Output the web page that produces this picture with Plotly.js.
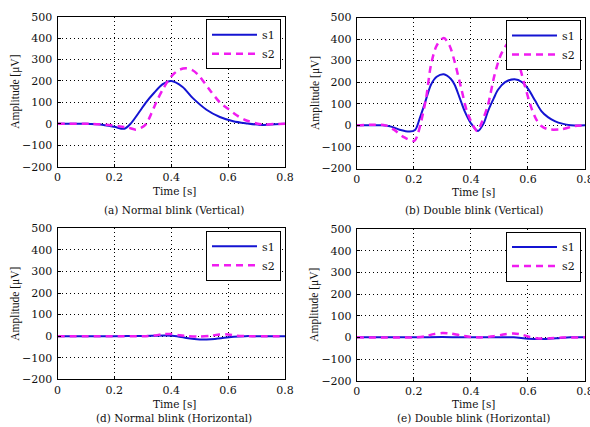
<!DOCTYPE html>
<html>
<head>
<meta charset="utf-8">
<script src="https://cdn.plot.ly/plotly-3.0.1.min.js"></script>
<style>html,body{margin:0;padding:0;background:#fff;}#chart{width:590px;height:427px;}</style>
</head>
<body>
<div id="chart"></div>
<script>
// ---- data ----
const seriesNames = ["s1", "s2"];
const xTickVals = [0, 0.2, 0.4, 0.6, 0.8];
const xTickText = ["0", "0.2", "0.4", "0.6", "0.8"];
const yTickVals = [-200, -100, 0, 100, 200, 300, 400, 500];
const captions = ["(a) Normal blink (Vertical)", "(b) Double blink (Vertical)",
                  "(d) Normal blink (Horizontal)", "(e) Double blink (Horizontal)"];

// (a) Normal blink, vertical
const aS1t = [0, 0.1, 0.15, 0.2, 0.235, 0.258, 0.29, 0.31, 0.34, 0.37, 0.4, 0.44, 0.476, 0.524, 0.571, 0.618, 0.665, 0.712, 0.75, 0.8];
const aS1v = [0, 0, -3, -14, -23, 2, 60, 98, 145, 185, 200, 172, 120, 66, 32, 12, 2, -5, -3, 0];
const aS2t = [0, 0.12, 0.18, 0.22, 0.25, 0.275, 0.295, 0.312, 0.33, 0.347, 0.368, 0.388, 0.41, 0.43, 0.453, 0.475, 0.495, 0.512, 0.54, 0.571, 0.6, 0.63, 0.66, 0.7, 0.73, 0.76, 0.8];
const aS2v = [0, 0, -5, -12, -18, -27, -18, 0, 48, 100, 155, 200, 235, 253, 259, 250, 228, 200, 150, 100, 70, 40, 18, 2, -4, -1, 0];

// (b) Double blink, vertical
const bS1t = [0, 0.09, 0.12, 0.15, 0.185, 0.205, 0.22, 0.237, 0.26, 0.28, 0.305, 0.33, 0.343, 0.36, 0.378, 0.4, 0.425, 0.445, 0.46, 0.48, 0.495, 0.52, 0.553, 0.58, 0.6, 0.625, 0.647, 0.67, 0.694, 0.72, 0.75, 0.8];
const bS1v = [0, 0, -6, -20, -29, -20, 30, 96, 188, 225, 237, 215, 188, 130, 66, 10, -26, 10, 66, 125, 165, 200, 214, 200, 170, 115, 66, 38, 20, 8, 1, 0];
const bS2t = [0, 0.1, 0.13, 0.167, 0.202, 0.215, 0.226, 0.243, 0.26, 0.28, 0.305, 0.325, 0.343, 0.366, 0.39, 0.422, 0.44, 0.46, 0.483, 0.506, 0.535, 0.56, 0.588, 0.612, 0.63, 0.647, 0.67, 0.717, 0.764, 0.8];
const bS2v = [0, 0, -20, -56, -72, -35, 20, 127, 280, 370, 405, 370, 295, 172, 50, -26, 20, 96, 234, 330, 385, 320, 188, 81, 25, -3, -18, -18, -3, 0];

// (d) Normal blink, horizontal
const dS1t = [0, 0.1, 0.2, 0.3, 0.38, 0.42, 0.46, 0.5, 0.54, 0.58, 0.62, 0.66, 0.7, 0.8];
const dS1v = [0, 0, 0, 1, 3, 0, -10, -15, -14, -9, -3, 0, 0, 0];
const dS2t = [0, 0.3, 0.34, 0.37, 0.4, 0.43, 0.46, 0.5, 0.54, 0.57, 0.6, 0.63, 0.67, 0.8];
const dS2v = [0, 0, 3, 9, 10, 4, 0, -2, 2, 8, 8, 2, 0, 0];

// (e) Double blink, horizontal
const eS1t = [0, 0.2, 0.3, 0.4, 0.5, 0.55, 0.6, 0.65, 0.7, 0.75, 0.8];
const eS1v = [0, 0, 2, 0, 1, 0, -6, -8, -4, 0, 0];
const eS2t = [0, 0.2, 0.24, 0.27, 0.3, 0.33, 0.36, 0.4, 0.44, 0.48, 0.52, 0.55, 0.58, 0.6, 0.63, 0.67, 0.72, 0.8];
const eS2v = [0, 0, 5, 15, 20, 17, 10, 2, 0, 5, 14, 18, 12, 4, -4, -5, -1, 0];

// ---- styling ----
const W = 590, H = 427;
const px = v => v / W;
const py = v => 1 - v / H;
const blue = "#1414d2";
const magenta = "#f01cf0";
const serif = "DejaVu Serif";
const ink = "#111";

const panels = [
  {s1: [aS1t, aS1v], s2: [aS2t, aS2v], box: [57.5, 285, 16.7, 166.7], ytx: 16, xt: 191, cap: 210, leg: "legend"},
  {s1: [bS1t, bS1v], s2: [bS2t, bS2v], box: [356.8, 585, 17.5, 168.5], ytx: 315, xt: 192, cap: 210, leg: "legend2"},
  {s1: [dS1t, dS1v], s2: [dS2t, dS2v], box: [57.5, 285, 228.3, 379.3], ytx: 16, xt: 403.5, cap: 417.5, leg: "legend3"},
  {s1: [eS1t, eS1v], s2: [eS2t, eS2v], box: [356.8, 585, 229, 380.7], ytx: 315, xt: 404, cap: 418, leg: "legend4"}
];

const traces = [];
const layout = {
  width: W, height: H,
  margin: {l: 0, r: 0, t: 0, b: 0},
  paper_bgcolor: "#fff", plot_bgcolor: "#fff",
  showlegend: true,
  annotations: []
};

panels.forEach((p, i) => {
  const n = i === 0 ? "" : String(i + 1);
  const xa = "x" + n, ya = "y" + n;
  traces.push({x: p.s1[0], y: p.s1[1], xaxis: xa, yaxis: ya, name: seriesNames[0], mode: "lines",
    line: {color: blue, width: 2, shape: "spline", smoothing: 0.8}, legend: p.leg});
  traces.push({x: p.s2[0], y: p.s2[1], xaxis: xa, yaxis: ya, name: seriesNames[1], mode: "lines",
    line: {color: magenta, width: 2.5, dash: "7px,5px", shape: "spline", smoothing: 0.8}, legend: p.leg});
  const [l, r, t, b] = p.box;
  const axCommon = {showline: true, mirror: true, linecolor: "#000", linewidth: 1,
    showgrid: true, gridcolor: "#000", griddash: "1px,3px", gridwidth: 1,
    ticks: "inside", ticklen: 3, tickcolor: "#000", zeroline: false,
    ticklabeloverflow: "allow",
    tickfont: {family: serif, size: 11, color: ink}, fixedrange: true};
  layout["xaxis" + n] = Object.assign({}, axCommon, {domain: [px(l), px(r)], anchor: ya,
    range: [0, 0.8], tickvals: xTickVals, ticktext: xTickText, ticklabelstandoff: 0});
  layout["yaxis" + n] = Object.assign({}, axCommon, {domain: [py(b), py(t)], anchor: xa,
    range: [-200, 500], tickvals: yTickVals, ticklabelstandoff: 2});
  layout[p.leg] = {x: px(r - 4), xanchor: "right", y: py(t + 2.5), yanchor: "top",
    bgcolor: "#fff", bordercolor: "#000", borderwidth: 1,
    font: {family: serif, size: 11, color: ink}, itemwidth: 45, tracegroupgap: 0};
  const cx = px((l + r) / 2 + 3);
  layout.annotations.push({text: "Amplitude [μV]", x: px(p.ytx), y: py((t + b) / 2), xref: "paper", yref: "paper",
    xanchor: "center", yanchor: "middle",
    textangle: -90, showarrow: false, font: {family: "Liberation Serif", size: 11.5, color: ink}});
  layout.annotations.push({text: "Time [s]", x: cx, y: py(p.xt), xref: "paper", yref: "paper",
    xanchor: "center", yanchor: "middle",
    showarrow: false, font: {family: serif, size: 10.5, color: ink}});
  layout.annotations.push({text: captions[i], x: cx, y: py(p.cap), xref: "paper", yref: "paper",
    xanchor: "center", yanchor: "middle",
    showarrow: false, font: {family: serif, size: 10.5, color: ink}});
});

Plotly.newPlot("chart", traces, layout, {displayModeBar: false, staticPlot: true});
</script>
</body>
</html>
